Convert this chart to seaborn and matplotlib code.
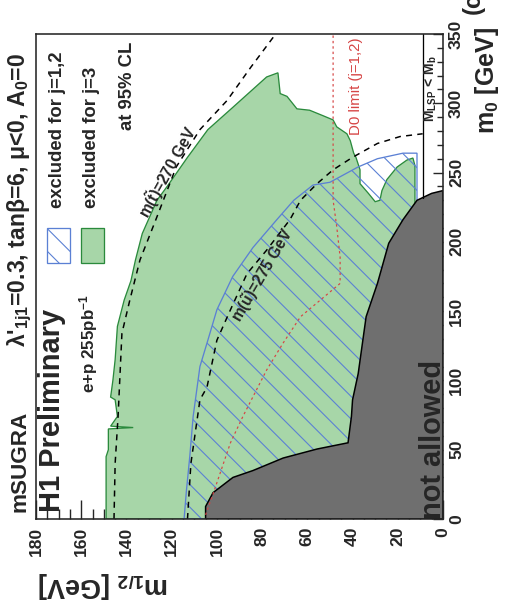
import numpy as np
import matplotlib
matplotlib.use("Agg")
import matplotlib.pyplot as plt
import seaborn as sns
from matplotlib.patches import Rectangle
from matplotlib.ticker import MultipleLocator

# exclusion contours as (m0, m1/2) in GeV
grey_m0 = [0, 9, 19, 30, 35, 44, 50.5, 55, 74, 86, 105, 146, 170, 199, 216, 230, 235, 237, 237]
grey_m12 = [105, 105, 101.7, 92.9, 84, 70.7, 55.7, 42, 40.5, 40, 37.5, 34, 29, 24, 17.7, 11.5, 5, 0, 0]

green_m0 = [0, 45, 50, 62, 65, 66, 67, 74, 86, 88, 100, 115, 139, 158, 172, 187, 206, 230, 240,
            261, 281, 297, 319, 322, 307, 305, 296, 295, 291, 288, 283, 278, 273, 264, 261, 252,
            242, 235, 229, 230, 237, 245, 254, 259, 260.5, 255, 200, 200, 0]
green_m12 = [149, 149, 148, 148, 148, 137, 147, 144, 145, 147, 146, 145, 144, 141, 138, 136, 133,
             126.5, 122, 113, 104, 93, 78, 73, 72, 69, 64.6, 59, 53, 48.6, 47, 42.5, 41, 39.5,
             38.5, 36.7, 36.7, 33, 30, 27.9, 27, 24.8, 20.3, 16, 13.3, 12.4, 12.4, 0, 0]

blue_m0 = [0, 20, 45, 74, 110, 129, 151, 175, 196, 216, 230, 241, 243, 254, 260, 264, 264, 225, 0]
blue_m12 = [114.5, 113.5, 112, 110.5, 107.5, 104, 100, 93, 84, 73.5, 66, 57.5, 50, 37.6, 29,
            17.7, 11.5, 11.5, 11.5]

stop_m0 = [0, 40, 74, 134, 158, 187, 216, 254, 281, 302, 326, 350]
stop_m12 = [145.5, 145, 143.7, 142, 138.5, 134, 127, 118, 107.5, 95.5, 85, 74]

up_m0 = [0, 40, 86, 95, 129, 151, 177, 194, 216, 230, 242, 252, 261, 271, 276, 278]
up_m12 = [113, 111.5, 107.5, 104.4, 100, 94, 86.7, 78, 67.7, 63, 55.7, 48.6, 40, 29, 19, 9]

d0_m0 = [3, 19, 55, 74, 107.5, 127, 146, 170, 189, 211, 230, 350]
d0_m12 = [105, 101.5, 94, 88.5, 78, 70.7, 63, 45.5, 45.5, 47, 48.6, 48.6]

lsp_m0 = [232, 350]
lsp_m12 = [8.8, 8.8]

m12_ticks = list(range(0, 181, 20))
m0_ticks = list(range(0, 351, 50))

GREEN_FILL = "#a7d6a8"
GREEN_EDGE = "#2a8a3c"
BLUE = "#5b80d4"
GREY = "#6f6f6f"
RED = "#d64545"

DPI = 68
W, H = 507, 613


def pt(v):
    return v * 72 / DPI


def fx(x):
    return x / W


def fy(y):
    return 1 - y / H


sns.set_style("ticks")
plt.rcParams["font.family"] = ["Liberation Sans", "DejaVu Sans"]
plt.rcParams["font.weight"] = "bold"
plt.rcParams["mathtext.fontset"] = "custom"
plt.rcParams["mathtext.rm"] = "Liberation Sans:bold"
plt.rcParams["mathtext.it"] = "Liberation Sans:bold"
plt.rcParams["mathtext.bf"] = "Liberation Sans:bold"
plt.rcParams["hatch.linewidth"] = pt(1.1)

fig = plt.figure(figsize=(W / DPI, H / DPI), dpi=DPI)
ax = fig.add_axes([fx(36), fy(519), fx(443) - fx(36), fy(34) - fy(519)])

# the whole plot is turned: m1/2 runs right-to-left, m0 runs upward
ax.fill(green_m12, green_m0, facecolor=GREEN_FILL, edgecolor=GREEN_EDGE, lw=pt(1.3), zorder=1)
ax.fill(blue_m12, blue_m0, facecolor="none", edgecolor=BLUE, hatch="\\", lw=pt(1.3), zorder=2)
ax.fill(grey_m12 + [0], grey_m0 + [0], facecolor=GREY, edgecolor="black", lw=pt(1.5), zorder=3)

sns.lineplot(x=stop_m12, y=stop_m0, sort=False, estimator=None, ax=ax, color="black",
             lw=pt(1.5), zorder=4).lines[-1].set_dashes((4, 3.5))
sns.lineplot(x=up_m12, y=up_m0, sort=False, estimator=None, ax=ax, color="black",
             lw=pt(1.5), zorder=4).lines[-1].set_dashes((4, 3.5))
sns.lineplot(x=d0_m12, y=d0_m0, sort=False, estimator=None, ax=ax, color=RED,
             lw=pt(1.2), zorder=4).lines[-1].set_dashes((2, 2.5))
sns.lineplot(x=lsp_m12, y=lsp_m0, sort=False, estimator=None, ax=ax, color="black",
             lw=pt(1.3), zorder=4)

ax.set_xlim(180, 0)
ax.set_ylim(0, 350)
ax.set_xticks(m12_ticks)
ax.set_yticks(m0_ticks)
ax.xaxis.set_minor_locator(MultipleLocator(5))
ax.yaxis.set_minor_locator(MultipleLocator(10))
ax.yaxis.tick_right()
ax.set_xlabel("")
ax.set_ylabel("")
ax.tick_params(axis="x", which="both", direction="in", bottom=True, top=False,
               labelrotation=90, labelsize=pt(17.5), pad=pt(8), width=pt(1.4))
ax.tick_params(axis="x", which="major", length=pt(19))
ax.tick_params(axis="x", which="minor", length=pt(10))
ax.tick_params(axis="y", which="both", direction="in", left=False, right=True,
               labelrotation=90, labelsize=pt(17.5), pad=pt(6), width=pt(1.4))
ax.tick_params(axis="y", which="major", length=pt(10))
ax.tick_params(axis="y", which="minor", length=pt(6))
for lab in ax.get_yticklabels():
    lab.set_verticalalignment("center")
for s in ax.spines.values():
    s.set_linewidth(pt(1.6))
    s.set_zorder(6)

# axis titles
fig.text(fx(103), fy(585), r"m$_{1/2}$ [GeV]", rotation=180, ha="center", va="center",
         fontsize=pt(27))
fig.text(fx(487), fy(80), r"m$_0$ [GeV]", rotation=90, ha="center", va="center",
         fontsize=pt(25))

# header and legend
fig.text(fx(20), fy(512), "mSUGRA", rotation=90, ha="center", va="bottom", fontsize=pt(22.5))
fig.text(fx(20), fy(347), r"$\lambda$'$_{1j1}$=0.3, tan$\beta$=6, $\mu$<0, A$_0$=0",
         rotation=90, ha="center", va="bottom", fontsize=pt(23))
fig.text(fx(52), fy(512), "H1 Preliminary", rotation=90, ha="center", va="bottom", fontsize=pt(29))
fig.text(fx(89), fy(393), r"e+p 255pb$^{-1}$", rotation=90, ha="center", va="bottom", fontsize=pt(17))

fig.add_artist(Rectangle((fx(47), fy(263)), fx(23), fy(228) - fy(263), transform=fig.transFigure,
                         facecolor="white", edgecolor=BLUE, hatch="\\", lw=pt(1.3)))
fig.add_artist(Rectangle((fx(81), fy(263)), fx(23), fy(228) - fy(263), transform=fig.transFigure,
                         facecolor=GREEN_FILL, edgecolor=GREEN_EDGE, lw=pt(1.3)))
fig.text(fx(57), fy(208), "excluded for j=1,2", rotation=90, ha="center", va="bottom", fontsize=pt(18.5))
fig.text(fx(91), fy(208), "excluded for j=3", rotation=90, ha="center", va="bottom", fontsize=pt(18.5))
fig.text(fx(128), fy(130), "at 95% CL", rotation=90, ha="center", va="bottom", fontsize=pt(18.5))

# in-plot annotations
fig.text(fx(168), fy(172), r"m($\tilde{\mathrm{t}}$)=270 GeV", rotation=61, ha="center",
         va="center", fontsize=pt(15.5))
fig.text(fx(263), fy(275), r"m($\tilde{\mathrm{u}}$)=275 GeV", rotation=59.5, ha="center",
         va="center", fontsize=pt(15.5))
fig.text(fx(356), fy(135), "D0 limit (j=1,2)", rotation=90, ha="center", va="bottom",
         fontsize=pt(15), color=RED, fontweight="normal")
fig.text(fx(431), fy(122), r"M$_{\mathrm{LSP}}$ < M$_{\mathrm{b}}$", rotation=90, ha="center",
         va="bottom", fontsize=pt(14))
fig.text(fx(433), fy(519), "not allowed", rotation=90, ha="center", va="bottom", fontsize=pt(29))
fig.text(fx(473), fy(14), "(c)", rotation=90, ha="center", va="bottom", fontsize=pt(24))

fig.savefig("out.png", dpi=DPI)
